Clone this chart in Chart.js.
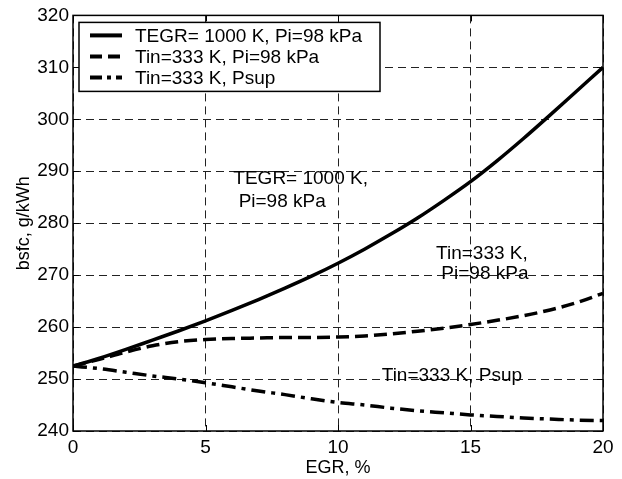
<!DOCTYPE html>
<html>
<head>
<meta charset="utf-8">
<script src="https://cdn.jsdelivr.net/npm/chart.js@4.4.1/dist/chart.umd.min.js"></script>
<style>
  html, body { margin: 0; padding: 0; background: #fff; }
  #wrap { width: 622px; height: 479px; }
</style>
</head>
<body>
<div id="wrap"><canvas id="myChart" width="622" height="479"></canvas></div>
<script>
// EGR, % (x axis)
const egr = [0, 1, 2, 3, 4, 5, 6, 7, 8, 9, 10, 11, 12, 13, 14, 15, 16, 17, 18, 19, 20];

// bsfc, g/kWh for each case
const tegr1000 = [252.5, 254.0, 255.7, 257.5, 259.3, 261.2, 263.2, 265.3, 267.5, 269.8, 272.3,
                  275.0, 277.9, 281.0, 284.4, 288.0, 292.0, 296.3, 300.8, 305.4, 310.0];
const tin333 = [252.5, 253.8, 255.2, 256.4, 257.2, 257.6, 257.8, 257.9, 258.0, 258.0, 258.1,
                258.3, 258.7, 259.2, 259.8, 260.5, 261.3, 262.2, 263.3, 264.7, 266.5];
const tin333Psup = [252.5, 252.0, 251.3, 250.6, 250.0, 249.3, 248.5, 247.7, 247.0, 246.2, 245.5,
                    245.0, 244.4, 243.9, 243.5, 243.1, 242.8, 242.5, 242.3, 242.1, 242.0];

const seriesLabels = ['TEGR= 1000 K, Pi=98 kPa', 'Tin=333 K, Pi=98 kPa', 'Tin=333 K, Psup'];
const xTicks = [0, 5, 10, 15, 20];
const yTicks = [240, 250, 260, 270, 280, 290, 300, 310, 320];

// text labels on the plot, in data units (left edge, middle of text)
const notes = [
  { text: 'TEGR= 1000 K,', x: 6.05, y: 288.6 },
  { text: 'Pi=98 kPa', x: 6.25, y: 284.2 },
  { text: 'Tin=333 K,', x: 13.7, y: 274.2 },
  { text: 'Pi=98 kPa', x: 13.9, y: 270.2 },
  { text: 'Tin=333 K, Psup', x: 11.65, y: 250.6 }
];

const FONT = '"Liberation Sans", Arial, Helvetica, sans-serif';
const dashes = [[], [13, 6], [14, 6, 4, 6]];
const legendDashes = [[], [12, 6], [12, 5, 4, 5]];

const toPoints = (ys) => egr.map((x, i) => ({ x: x, y: ys[i] }));

// frame, inward ticks, notes and legend box
const decorations = {
  id: 'decorations',
  afterDraw(chart) {
    const ctx = chart.ctx;
    const a = chart.chartArea;
    const xs = chart.scales.x, ys = chart.scales.y;
    ctx.save();
    ctx.strokeStyle = '#000';
    ctx.lineWidth = 1.5;
    ctx.setLineDash([]);
    ctx.strokeRect(a.left, a.top, a.right - a.left, a.bottom - a.top);

    ctx.lineWidth = 1;
    ctx.beginPath();
    xTicks.forEach(v => {
      const px = Math.round(xs.getPixelForValue(v)) + 0.5;
      ctx.moveTo(px, a.bottom); ctx.lineTo(px, a.bottom - 6);
      ctx.moveTo(px, a.top); ctx.lineTo(px, a.top + 6);
    });
    yTicks.forEach(v => {
      const py = Math.round(ys.getPixelForValue(v)) + 0.5;
      ctx.moveTo(a.left, py); ctx.lineTo(a.left + 6, py);
      ctx.moveTo(a.right, py); ctx.lineTo(a.right - 6, py);
    });
    ctx.stroke();

    // notes
    ctx.fillStyle = '#000';
    ctx.font = '19px ' + FONT;
    ctx.textAlign = 'left';
    ctx.textBaseline = 'middle';
    notes.forEach(n => {
      ctx.fillText(n.text, xs.getPixelForValue(n.x), ys.getPixelForValue(n.y));
    });

    // legend
    const lx = a.left + 6, ly = a.top + 7, lw = 301, lh = 69;
    ctx.fillStyle = '#fff';
    ctx.fillRect(lx, ly, lw, lh);
    ctx.lineWidth = 1.5;
    ctx.strokeRect(lx, ly, lw, lh);
    chart.data.datasets.forEach((ds, i) => {
      const cy = ly + 13 + i * 21;
      ctx.strokeStyle = '#000';
      ctx.lineWidth = 4;
      ctx.setLineDash(legendDashes[i]);
      ctx.beginPath();
      ctx.moveTo(lx + 11, cy);
      ctx.lineTo(lx + 43, cy);
      ctx.stroke();
      ctx.setLineDash([]);
      ctx.fillStyle = '#000';
      ctx.fillText(ds.label, lx + 56, cy + 1);
    });
    ctx.restore();
  }
};

const ctx = document.getElementById('myChart').getContext('2d');
const myChart = new Chart(ctx, {
  type: 'line',
  data: {
    datasets: [tegr1000, tin333, tin333Psup].map((ys, i) => ({
      label: seriesLabels[i],
      data: toPoints(ys),
      borderColor: '#000',
      borderWidth: 3.5,
      borderDash: dashes[i],
      pointRadius: 0,
      fill: false,
      cubicInterpolationMode: 'monotone'
    }))
  },
  options: {
    responsive: false,
    animation: false,
    layout: { padding: { left: 0, top: 15, right: 19, bottom: 0 } },
    plugins: {
      legend: { display: false },
      tooltip: { enabled: false }
    },
    scales: {
      x: {
        type: 'linear',
        min: 0,
        max: 20,
        afterBuildTicks: (scale) => { scale.ticks = xTicks.map(v => ({ value: v })); },
        afterFit: (scale) => { scale.height = 48; },
        ticks: {
          color: '#000',
          font: { family: FONT, size: 19 },
          padding: 5,
          maxRotation: 0
        },
        grid: { color: '#222', lineWidth: 1, drawTicks: false },
        border: { display: false, dash: [8, 5] },
        title: {
          display: true,
          text: 'EGR, %',
          color: '#000',
          font: { family: FONT, size: 18 },
          padding: { top: 0, bottom: 0 }
        }
      },
      y: {
        min: 240,
        max: 320,
        afterBuildTicks: (scale) => { scale.ticks = yTicks.map(v => ({ value: v })); },
        afterFit: (scale) => { scale.width = 73; },
        ticks: {
          color: '#000',
          font: { family: FONT, size: 19 },
          padding: 4
        },
        grid: { color: '#222', lineWidth: 1, drawTicks: false },
        border: { display: false, dash: [8, 5] },
        title: {
          display: true,
          text: 'bsfc, g/kWh',
          color: '#000',
          font: { family: FONT, size: 18 },
          padding: { top: 13, bottom: 0 }
        }
      }
    }
  },
  plugins: [decorations]
});
</script>
</body>
</html>
